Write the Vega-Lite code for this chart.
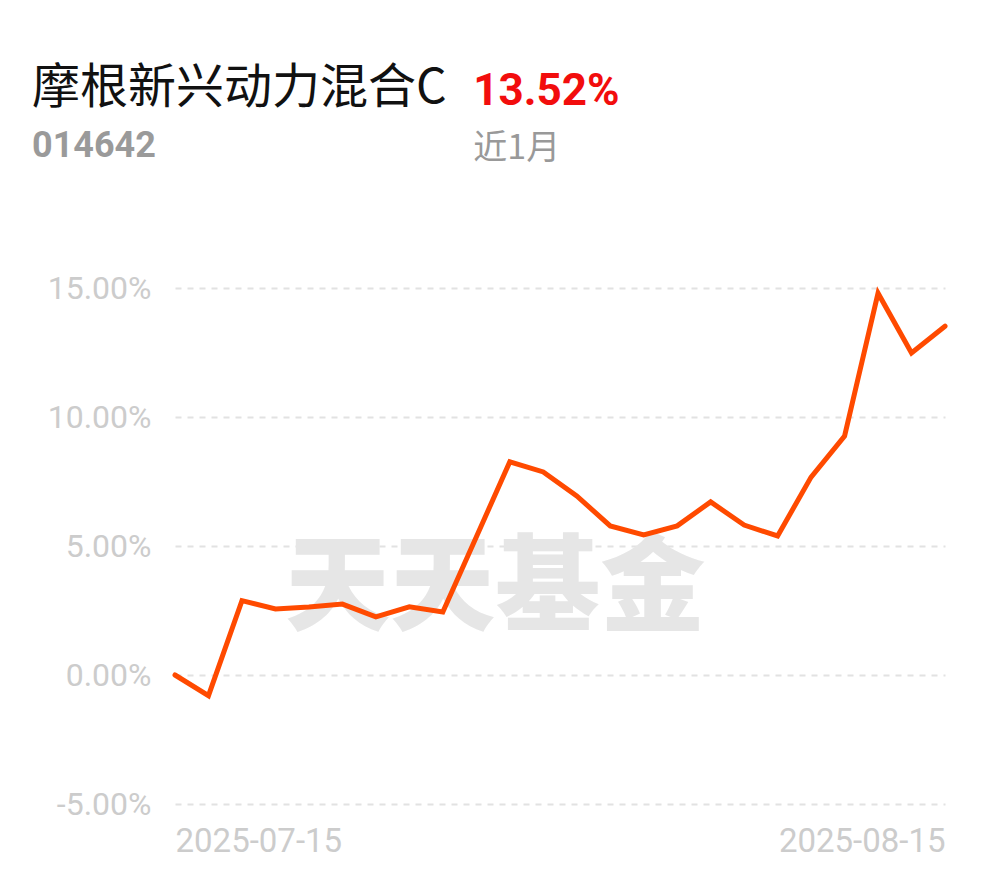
{
  "$schema": "https://vega.github.io/schema/vega-lite/v6.json",
  "width": 770,
  "height": 516,
  "autosize": {"type": "none"},
  "padding": {"left": 175, "top": 288, "right": 45, "bottom": 74},
  "background": "#ffffff",
  "config": {"view": {"stroke": null}},
  "title": {
    "text": "摩根新兴动力混合C",
    "subtitle": "014642",
    "anchor": "start",
    "frame": "group",
    "dx": -143,
    "offset": -94,
    "font": "Noto Sans CJK SC",
    "fontSize": 48,
    "fontWeight": "normal",
    "color": "#111111",
    "subtitleFont": "Roboto",
    "subtitleFontSize": 36,
    "subtitleFontWeight": "bold",
    "subtitleColor": "#9a9a9a",
    "subtitlePadding": 16
  },
  "datasets": {
    "nav": [
      {"date": "2025-07-15", "pct": 0.00},
      {"date": "2025-07-16", "pct": -0.80},
      {"date": "2025-07-17", "pct": 2.88},
      {"date": "2025-07-18", "pct": 2.56},
      {"date": "2025-07-21", "pct": 2.64},
      {"date": "2025-07-22", "pct": 2.75},
      {"date": "2025-07-23", "pct": 2.25},
      {"date": "2025-07-24", "pct": 2.64},
      {"date": "2025-07-25", "pct": 2.44},
      {"date": "2025-07-28", "pct": 5.35},
      {"date": "2025-07-29", "pct": 8.26},
      {"date": "2025-07-30", "pct": 7.87},
      {"date": "2025-07-31", "pct": 6.94},
      {"date": "2025-08-01", "pct": 5.78},
      {"date": "2025-08-04", "pct": 5.43},
      {"date": "2025-08-05", "pct": 5.78},
      {"date": "2025-08-06", "pct": 6.71},
      {"date": "2025-08-07", "pct": 5.81},
      {"date": "2025-08-08", "pct": 5.39},
      {"date": "2025-08-11", "pct": 7.67},
      {"date": "2025-08-12", "pct": 9.26},
      {"date": "2025-08-13", "pct": 14.80},
      {"date": "2025-08-14", "pct": 12.48},
      {"date": "2025-08-15", "pct": 13.52}
    ],
    "ret": [
      {"date": "2025-07-28", "pct": 22.1, "label": "13.52%"}
    ],
    "period": [
      {"date": "2025-07-28", "pct": 20.0, "label": "近1月"}
    ],
    "mark": [
      {"date": "2025-07-28", "pct": 3.3, "label": "天天基金"}
    ]
  },
  "layer": [
    {
      "data": {"name": "mark"},
      "mark": {"type": "text", "font": "Noto Sans CJK SC", "fontWeight": 900, "fontSize": 105, "color": "#e6e6e6", "align": "center", "baseline": "middle", "dx": 19},
      "encoding": {
        "x": {"field": "date", "type": "ordinal"},
        "y": {"field": "pct", "type": "quantitative"},
        "text": {"field": "label"}
      }
    },
    {
      "data": {"name": "nav"},
      "mark": {"type": "line", "color": "#ff4a00", "strokeWidth": 5, "strokeJoin": "miter", "strokeCap": "round"},
      "encoding": {
        "x": {
          "field": "date",
          "type": "ordinal",
          "sort": "ascending",
          "scale": {"type": "point", "padding": 0},
          "axis": {
            "title": null,
            "values": ["2025-07-15", "2025-08-15"],
            "labelAngle": 0,
            "domain": false,
            "ticks": false,
            "grid": false,
            "labelFont": "Roboto",
            "labelFontSize": 33,
            "labelColor": "#cccccc",
            "labelPadding": 37,
            "labelAlign": {"condition": {"test": "datum.value == '2025-07-15'", "value": "left"}, "value": "right"}
          }
        },
        "y": {
          "field": "pct",
          "type": "quantitative",
          "scale": {"domain": [-5, 15], "nice": false, "zero": false},
          "axis": {
            "title": null,
            "values": [-5, 0, 5, 10, 15],
            "labelExpr": "(datum.value < 0 ? '-' : '') + format(abs(datum.value), '.2f') + '%'",
            "domain": false,
            "ticks": false,
            "grid": true,
            "gridDash": [6, 6],
            "gridColor": "#e2e2e2",
            "gridWidth": 2,
            "labelFont": "Roboto",
            "labelFontSize": 32,
            "labelColor": "#cccccc",
            "labelPadding": 24
          }
        }
      }
    },
    {
      "data": {"name": "ret"},
      "mark": {"type": "text", "align": "left", "baseline": "alphabetic", "dx": -3, "font": "Roboto", "fontWeight": "bold", "fontSize": 44, "color": "#f20d0d"},
      "encoding": {
        "x": {"field": "date", "type": "ordinal"},
        "y": {"field": "pct", "type": "quantitative"},
        "text": {"field": "label"}
      }
    },
    {
      "data": {"name": "period"},
      "mark": {"type": "text", "align": "left", "baseline": "alphabetic", "dx": -3, "font": "Noto Sans CJK SC", "fontSize": 34, "color": "#999999"},
      "encoding": {
        "x": {"field": "date", "type": "ordinal"},
        "y": {"field": "pct", "type": "quantitative"},
        "text": {"field": "label"}
      }
    }
  ]
}
